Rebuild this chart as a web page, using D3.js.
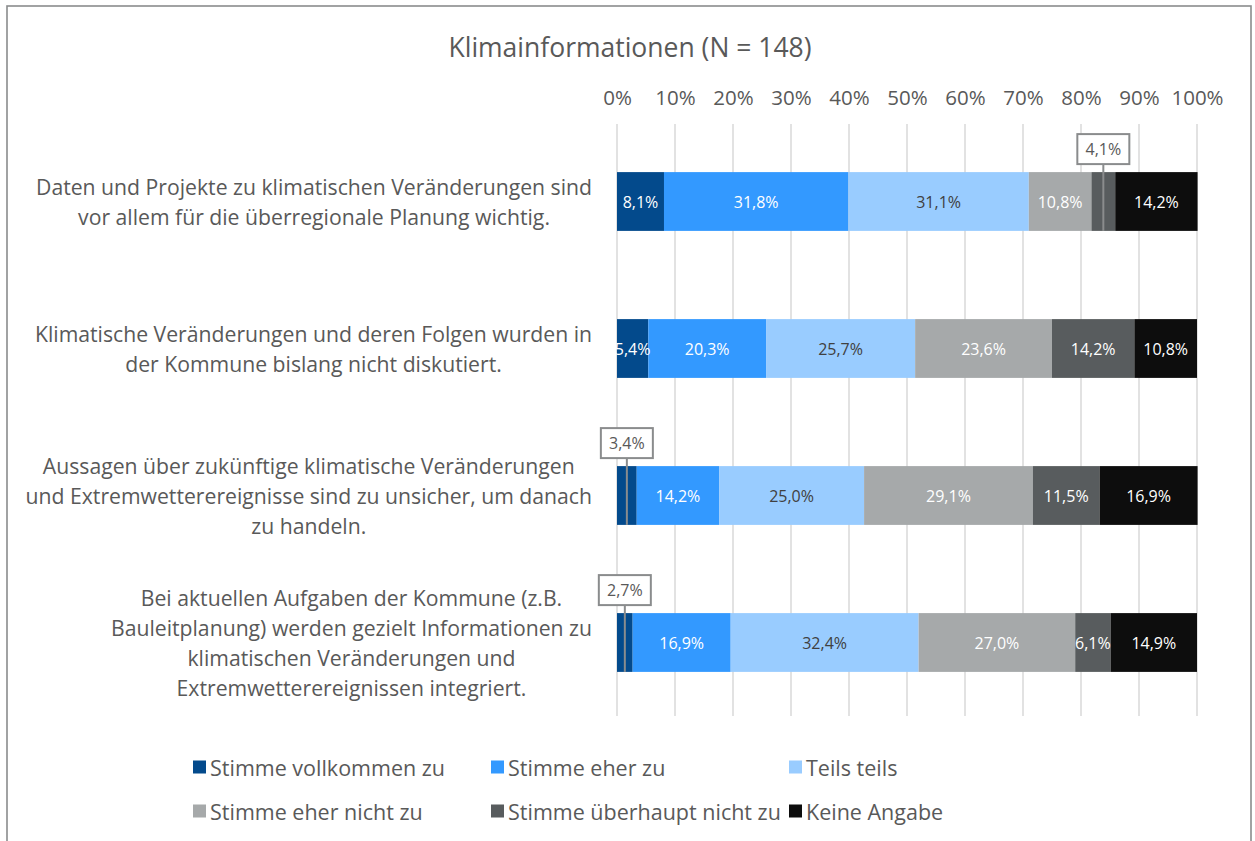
<!DOCTYPE html>
<html lang="de">
<head>
<meta charset="utf-8">
<script src="https://cdn.jsdelivr.net/npm/d3@7/dist/d3.min.js"></script>
<style>
  html, body { margin: 0; padding: 0; background: #fff; }
  svg { display: block; font-family: "Open Sans", "Noto Sans", sans-serif; }
</style>
</head>
<body>
<svg id="chart" width="1255" height="841"></svg>
<script>
// Survey statements (label lines joined by "\n")
const categories = [
  "Daten und Projekte zu klimatischen Veränderungen sind\nvor allem für die überregionale Planung wichtig.",
  "Klimatische Veränderungen und deren Folgen wurden in\nder Kommune bislang nicht diskutiert.",
  "Aussagen über zukünftige klimatische Veränderungen\nund Extremwetterereignisse sind zu unsicher, um danach\nzu handeln.",
  "Bei aktuellen Aufgaben der Kommune (z.B.\nBauleitplanung) werden gezielt Informationen zu\nklimatischen Veränderungen und\nExtremwetterereignissen integriert."
];

// Answer options, in stacking order
const seriesNames = [
  "Stimme vollkommen zu",
  "Stimme eher zu",
  "Teils teils",
  "Stimme eher nicht zu",
  "Stimme überhaupt nicht zu",
  "Keine Angabe"
];

// Percent shares per answer option, one value per statement
const vollkommen = [8.1, 5.4, 3.4, 2.7];
const eherZu = [31.8, 20.3, 14.2, 16.9];
const teils = [31.1, 25.7, 25.0, 32.4];
const eherNicht = [10.8, 23.6, 29.1, 27.0];
const ueberhauptNicht = [4.1, 14.2, 11.5, 6.1];
const keineAngabe = [14.2, 10.8, 16.9, 14.9];

const tickValues = [0, 10, 20, 30, 40, 50, 60, 70, 80, 90, 100];

const seriesValues = [vollkommen, eherZu, teils, eherNicht, ueberhauptNicht, keineAngabe];
const colors = ["#034a8c", "#3399ff", "#99ccff", "#a6a9aa", "#585c5e", "#0d0d0d"];
const labelColors = ["#ffffff", "#ffffff", "#404040", "#ffffff", "#ffffff", "#ffffff"];
// Segments too narrow for an inside label get a callout box above the bar
const calloutMin = 5;

const textColor = "#595959";
const svg = d3.select("#chart");

// Outer frame
svg.append("rect")
  .attr("x", 7).attr("y", 6).attr("width", 1244).attr("height", 860)
  .attr("fill", "#fff").attr("stroke", "#8a8c8d").attr("stroke-width", 1.6);

// Title
svg.append("text")
  .attr("x", 630).attr("y", 47)
  .attr("text-anchor", "middle").attr("dominant-baseline", "central")
  .attr("font-size", 26.5).attr("fill", textColor)
  .text("Klimainformationen (N = 148)");

const x = d3.scaleLinear().domain([0, 100]).range([617, 1197]);
const y = d3.scaleBand().domain(categories).range([128, 716])
  .paddingInner(0.6).paddingOuter(0.3);

// Vertical gridlines
svg.append("g").selectAll("line")
  .data(tickValues).join("line")
  .attr("x1", d => x(d)).attr("x2", d => x(d))
  .attr("y1", 124).attr("y2", 716)
  .attr("stroke", "#d9d9d9").attr("stroke-width", 1.5);

// Top axis labels
const axis = svg.append("g")
  .attr("transform", "translate(0,97)")
  .call(d3.axisTop(x).tickValues(tickValues).tickFormat(d => d + "%").tickSize(0).tickPadding(0));
axis.select(".domain").remove();
axis.selectAll("text")
  .attr("font-size", 20.5).attr("fill", textColor)
  .attr("font-family", "\"Open Sans\", sans-serif")
  .attr("y", 0).attr("dy", null)
  .attr("dominant-baseline", "central");

// Stacked data
const table = categories.map((c, i) => {
  const row = { cat: c };
  seriesNames.forEach((s, k) => { row[s] = seriesValues[k][i]; });
  return row;
});
const stacked = d3.stack().keys(seriesNames)(table);

const fmt = v => d3.format(".1f")(v).replace(".", ",") + "%";

const layers = svg.append("g").selectAll("g")
  .data(stacked).join("g")
  .attr("fill", (d, k) => colors[k]);

layers.selectAll("rect")
  .data(d => d).join("rect")
  .attr("x", d => x(d[0]))
  .attr("width", d => x(d[1]) - x(d[0]))
  .attr("y", d => y(d.data.cat))
  .attr("height", y.bandwidth());

// Value labels: inside the segment, or in a callout box for narrow segments
stacked.forEach((layer, k) => {
  layer.forEach(d => {
    const val = d.data[seriesNames[k]];
    const cx = (x(d[0]) + x(d[1])) / 2;
    const top = y(d.data.cat);
    if (val >= calloutMin) {
      svg.append("text")
        .attr("x", cx).attr("y", top + y.bandwidth() / 2)
        .attr("text-anchor", "middle").attr("dominant-baseline", "central")
        .attr("font-size", 16).attr("fill", labelColors[k])
        .text(fmt(val));
    } else {
      const bw = 52, bh = 30, gap = 38;
      svg.append("line")
        .attr("x1", cx).attr("x2", cx)
        .attr("y1", top - gap + bh).attr("y2", top + y.bandwidth())
        .attr("stroke", "#8a8c8d").attr("stroke-width", 2);
      svg.append("rect")
        .attr("x", cx - bw / 2).attr("y", top - gap)
        .attr("width", bw).attr("height", bh)
        .attr("fill", "#fff").attr("stroke", "#8a8c8d").attr("stroke-width", 2);
      svg.append("text")
        .attr("x", cx).attr("y", top - gap + bh / 2)
        .attr("text-anchor", "middle").attr("dominant-baseline", "central")
        .attr("font-size", 16).attr("fill", textColor)
        .text(fmt(val));
    }
  });
});

// Category labels: centered lines inside a block that is right-aligned to the plot
const lineH = 29.8;
const labelRight = 592;
categories.forEach(c => {
  const lines = c.split("\n");
  const cy = y(c) + y.bandwidth() / 2;
  const t = svg.append("text")
    .attr("text-anchor", "middle").attr("font-size", 21.2).attr("fill", textColor);
  const spans = lines.map((ln, i) => t.append("tspan")
    .attr("y", cy + (i - (lines.length - 1) / 2) * lineH)
    .attr("dominant-baseline", "central")
    .text(ln));
  const maxW = d3.max(spans, s => s.node().getComputedTextLength());
  spans.forEach(s => s.attr("x", labelRight - maxW / 2));
});

// Legend
const legendCols = [193, 491, 789];
const legendRows = [767, 811];
const legend = svg.append("g").selectAll("g")
  .data(seriesNames).join("g")
  .attr("transform", (d, i) => `translate(${legendCols[i % 3]},${legendRows[Math.floor(i / 3)]})`);
legend.append("rect")
  .attr("x", 0).attr("y", -6.5).attr("width", 13).attr("height", 13)
  .attr("fill", (d, i) => colors[i]);
legend.append("text")
  .attr("x", 17).attr("y", 0)
  .attr("dominant-baseline", "central")
  .attr("font-size", 21.5).attr("fill", textColor)
  .text(d => d);
</script>
</body>
</html>
